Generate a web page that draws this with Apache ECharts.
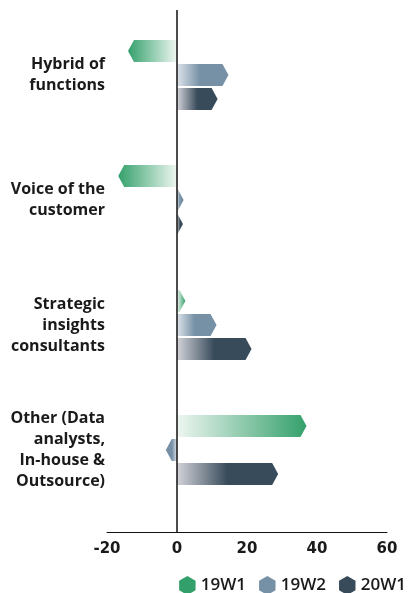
<!DOCTYPE html>
<html>
<head>
    <meta charset="utf-8">
    <title>Team structure</title>
    <script src="https://cdn.jsdelivr.net/npm/echarts@6/dist/echarts.min.js"></script>
    <style>
        html, body { margin: 0; padding: 0; background: #fff; }
    </style>
</head>
<body>

<div id="main" style="width: 413px;height:593px;"></div>

<script type="text/javascript">

    // categories, top to bottom
    var categories = [
        'Hybrid of\nfunctions',
        'Voice of the\ncustomer',
        'Strategic\ninsights\nconsultants',
        'Other (Data\nanalysts,\nIn-house &\nOutsource)'
    ];

    var seriesNames = ['19W1', '19W2', '20W1'];

    // values
    var w19w1 = [-14, -16.8, 2.4, 37];
    var w19w2 = [14.7, 1.9, 11.3, -3.2];
    var w20w1 = [11.6, 1.7, 21.3, 28.9];

    var xTicks = [-20, 0, 20, 40, 60];

    var colors = ['#33a06b', '#7690a6', '#384b5b'];
    var lightEnds = ['#eef6f1', '#dde3ea', '#d3d3d9'];
    var fullAt = [1, 0.45, 0.5];

    var myChart = echarts.init(document.getElementById('main'));

    function renderBar(params, api) {
        var v = api.value(0);
        var idx = api.value(1);
        var s = params.seriesIndex;
        var barH = api.size([0, 0.176])[1];
        var shift = (s - 1) * api.size([0, 0.192])[1];
        var p0 = api.coord([0, idx]);
        var p1 = api.coord([v, idx]);
        var yc = p0[1] + shift;
        var x0 = p0[0], x1 = p1[0];
        var dir = x1 >= x0 ? 1 : -1;
        var t = Math.min(6, Math.abs(x1 - x0));
        var neg = dir < 0;
        return {
            type: 'polygon',
            shape: {
                points: [
                    [x0, yc - barH / 2],
                    [x1 - dir * t, yc - barH / 2],
                    [x1, yc],
                    [x1 - dir * t, yc + barH / 2],
                    [x0, yc + barH / 2]
                ]
            },
            style: {
                fill: {
                    type: 'linear',
                    x: neg ? 1 : 0, y: 0, x2: neg ? 0 : 1, y2: 0,
                    colorStops: [
                        {offset: 0, color: lightEnds[s]},
                        {offset: fullAt[s], color: colors[s]},
                        {offset: 1, color: colors[s]}
                    ]
                }
            }
        };
    }

    function makeSeries(name, values, i) {
        var s = {
            name: name,
            type: 'custom',
            renderItem: renderBar,
            itemStyle: {color: colors[i]},
            encode: {x: 0, y: 1},
            data: values.map(function (v, k) { return [v, k]; })
        };
        if (i === 0) {
            s.markLine = {
                silent: true,
                symbol: 'none',
                label: {show: false},
                lineStyle: {color: '#111', width: 1.5, type: 'solid'},
                data: [{xAxis: 0}]
            };
        }
        return s;
    }

    var hexIcon = 'path://M10,0 L20,5.8 L20,17.3 L10,23.1 L0,17.3 L0,5.8 Z';

    myChart.setOption({
        animation: false,
        color: colors,
        grid: {left: 107, right: 26, top: 10, bottom: 61},
        legend: {
            data: seriesNames,
            right: 2,
            top: 571,
            icon: hexIcon,
            itemWidth: 17,
            itemHeight: 19,
            itemGap: 13,
            textStyle: {
                fontFamily: 'Open Sans',
                fontWeight: 600,
                fontSize: 17,
                color: '#1a1a1a'
            }
        },
        xAxis: {
            type: 'value',
            min: -20,
            max: 60,
            interval: 20,
            axisLine: {show: true, onZero: false, lineStyle: {color: '#111', width: 1}},
            axisTick: {show: false},
            splitLine: {show: false},
            axisLabel: {
                margin: 10,
                fontFamily: 'DejaVu Sans',
                fontWeight: 'bold',
                fontSize: 15,
                color: '#1a1a1a',
                customValues: xTicks
            }
        },
        yAxis: {
            type: 'value',
            inverse: true,
            min: -0.52,
            max: 3.656,
            axisLine: {show: false, onZero: false},
            axisTick: {show: false},
            splitLine: {show: false},
            axisLabel: {
                margin: 2,
                fontFamily: 'Open Sans',
                fontWeight: 'bold',
                fontSize: 16,
                lineHeight: 21,
                color: '#1a1a1a',
                customValues: [0, 1, 2, 3],
                formatter: function (v) {
                    return categories[Math.round(v)];
                }
            }
        },
        series: [
            makeSeries(seriesNames[0], w19w1, 0),
            makeSeries(seriesNames[1], w19w2, 1),
            makeSeries(seriesNames[2], w20w1, 2)
        ]
    });

</script>
</body>
</html>
